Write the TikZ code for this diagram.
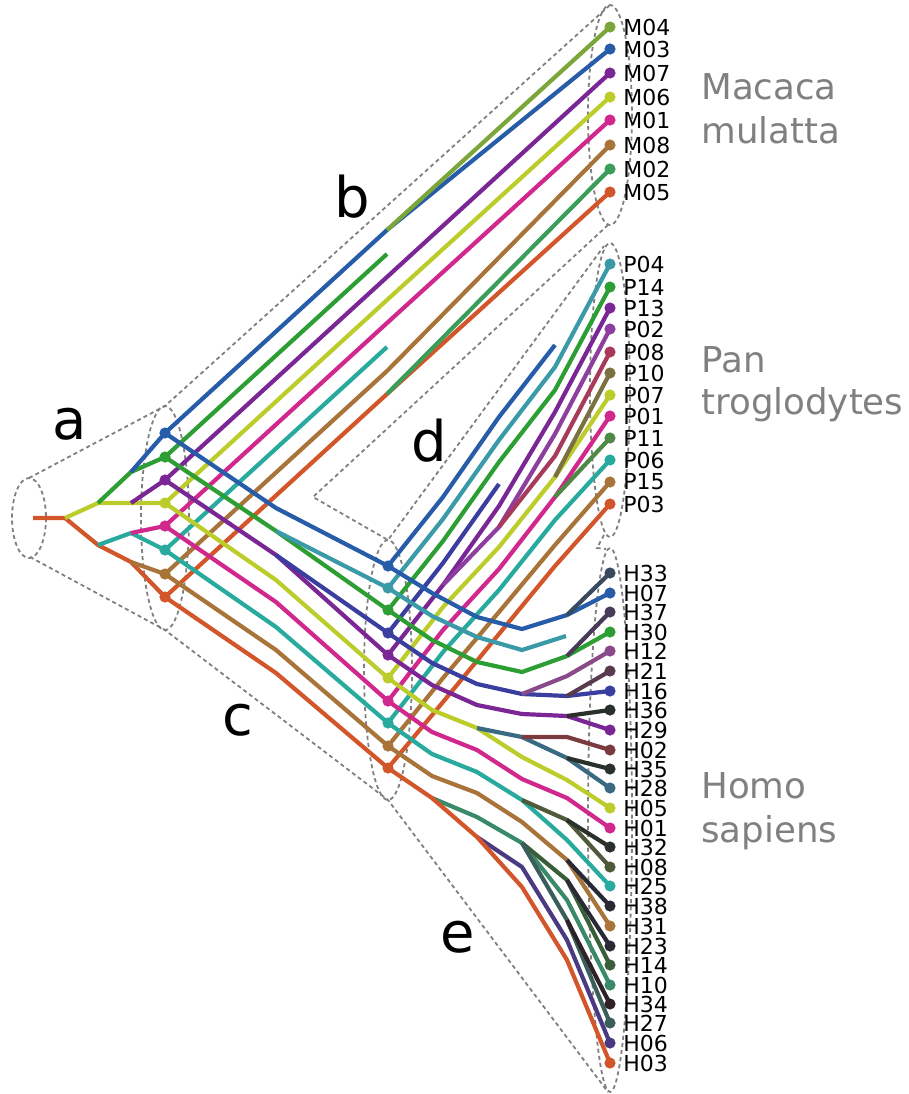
\documentclass[tikz,border=0pt]{standalone}
\usepackage{fontspec}
\setmainfont{DejaVu Sans}
\usetikzlibrary{positioning}

%% lineage colours
\definecolor{cOrange}{RGB}{210,86,42}
\definecolor{cYellow}{RGB}{188,204,42}
\definecolor{cGreen}{RGB}{44,158,52}
\definecolor{cBlue}{RGB}{38,92,168}
\definecolor{cPurple}{RGB}{122,38,148}
\definecolor{cPink}{RGB}{208,40,140}
\definecolor{cTeal}{RGB}{40,170,158}
\definecolor{cBrown}{RGB}{168,116,58}
\definecolor{cSteel}{RGB}{58,154,168}
\definecolor{cIndigo}{RGB}{58,62,158}
\definecolor{cOlive}{RGB}{122,166,58}
\definecolor{cMgreen}{RGB}{58,158,90}
\definecolor{cLpurple}{RGB}{142,62,158}
\definecolor{cMaroon}{RGB}{168,58,90}
\definecolor{cOliveP}{RGB}{122,112,64}
\definecolor{cDgreen}{RGB}{78,138,69}
\definecolor{cSlate}{RGB}{58,74,94}
\definecolor{cDpurple}{RGB}{74,58,90}
\definecolor{cHpurple}{RGB}{138,74,138}
\definecolor{cDmaroon}{RGB}{90,58,78}
\definecolor{cInk}{RGB}{42,48,42}
\definecolor{cMaroonH}{RGB}{122,58,62}
\definecolor{cSlateB}{RGB}{58,106,130}
\definecolor{cDolive}{RGB}{78,90,58}
\definecolor{cInkB}{RGB}{42,42,54}
\definecolor{cHgreen}{RGB}{58,138,106}
\definecolor{cDgreenH}{RGB}{58,94,58}
\definecolor{cDteal}{RGB}{58,94,90}
\definecolor{cInkP}{RGB}{46,34,40}
\definecolor{cHindigo}{RGB}{74,58,130}

%% tip lists: name / y / colour
\newcommand{\tipsM}{M04/27/cOlive, M03/49/cBlue, M07/73/cPurple, M06/97/cYellow,
  M01/120/cPink, M08/145/cBrown, M02/169/cMgreen, M05/192/cOrange}
\newcommand{\tipsP}{P04/264/cSteel, P14/287/cGreen, P13/308/cPurple, P02/329/cLpurple,
  P08/352/cMaroon, P10/373/cOliveP, P07/395/cYellow, P01/416/cPink,
  P11/438/cDgreen, P06/460/cTeal, P15/482/cBrown, P03/504/cOrange}
\newcommand{\tipsH}{H33/573/cSlate, H07/593/cBlue, H37/612/cDpurple, H30/632/cGreen,
  H12/651/cHpurple, H21/671/cDmaroon, H16/691/cIndigo, H36/710/cInk,
  H29/730/cPurple, H02/750/cMaroonH, H35/769/cInk, H28/788/cSlateB,
  H05/808/cYellow, H01/828/cPink, H32/847/cInk, H08/867/cDolive,
  H25/886/cTeal, H38/906/cInkB, H31/926/cBrown, H23/946/cInkB,
  H14/965/cDgreenH, H10/985/cHgreen, H34/1004/cInkP, H27/1023/cDteal,
  H06/1043/cHindigo, H03/1063/cOrange}
%% inner nodes: name / x / y / colour
\newcommand{\inner}{A1/165/433/cBlue, A2/165/457/cGreen, A3/165/480/cPurple,
  A4/165/503/cYellow, A5/165/526/cPink, A6/165/550/cTeal, A7/165/574/cBrown,
  A8/165/597/cOrange, C1/388/566/cBlue, C2/388/588/cSteel, C3/388/610/cGreen,
  C4/388/633/cIndigo, C5/388/655/cPurple, C6/388/678/cYellow, C7/388/701/cPink,
  C8/388/723/cTeal, C9/388/746/cBrown, C10/388/768/cOrange}

\begin{document}
\begin{tikzpicture}[
  x=0.5pt,y=-0.5pt,
  %% branches of the gene tree
  br/.style={line width=2.1pt,line join=round},
  %% species tree outline
  hull/.style={draw=gray,line width=0.9pt,dash pattern=on 2pt off 1.6pt},
  tiplab/.style={inner sep=0pt,font=\fontsize{11}{11}\selectfont},
  species/.style={anchor=base west,inner sep=0pt,text=gray,font=\fontsize{17.8}{17.8}\selectfont},
  clade/.style={inner sep=0pt,font=\fontsize{28}{28}\selectfont}
]
\useasboundingbox (0,0) rectangle (909,1094);

%% ---- COORDINATES ----
\coordinate (root) at (33,518);
\foreach \n/\y/\c in \tipsM {\coordinate (\n) at (610,\y);}
\foreach \n/\y/\c in \tipsP {\coordinate (\n) at (610,\y);}
\foreach \n/\y/\c in \tipsH {\coordinate (\n) at (610,\y);}
\foreach \n/\x/\y/\c in \inner {\coordinate (\n) at (\x,\y);}

%% ---- SPECIES TREE OUTLINE ----
\draw[hull] (29,518) ellipse (17 and 40);
\draw[hull] (165,518) ellipse (24 and 112);
\draw[hull] (388,670) ellipse (24 and 130);
\draw[hull] (610,115) ellipse (22 and 110);
\draw[hull] (610,390) ellipse (20 and 147);
\draw[hull] (610,820) ellipse (22 and 272);
\draw[hull] (29,478) -- (165,406) -- (610,5);
\draw[hull] (30,557) -- (165,630) -- (388,800) -- (608,1092);
\draw[hull] (608,225) -- (313,497) -- (388,540) -- (604,246);
\draw[hull] (604,535) -- (597,548) -- (606,549);

%% ---- a: root to first split ----
\draw[br,cOrange] (root) -- (65,518) -- (98,545) -- (131,562) -- (A8);
\draw[br,cYellow] (65,518) -- (98,503) -- (A4);
\draw[br,cGreen] (98,503) -- (131,472) -- (A2);
\draw[br,cBlue] (131,472) -- (A1);
\draw[br,cPurple] (131,503) -- (A3);
\draw[br,cTeal] (98,545) -- (131,533) -- (A6);
\draw[br,cPink] (131,533) -- (A5);
\draw[br,cBrown] (131,562) -- (A7);

%% ---- b: Macaca ----
\draw[br,cBlue] (A1) -- (387,230) -- (M03);
\draw[br,cOlive] (387,230) -- (M04);
\draw[br,cGreen] (A2) -- (387,254);
\draw[br,cPurple] (A3) -- (387,277) -- (M07);
\draw[br,cYellow] (A4) -- (387,300) -- (M06);
\draw[br,cPink] (A5) -- (387,323) -- (M01);
\draw[br,cTeal] (A6) -- (387,347);
\draw[br,cBrown] (A7) -- (387,371) -- (M08);
\draw[br,cOrange] (A8) -- (387,394) -- (M05);
\draw[br,cMgreen] (387,394) -- (M02);

%% ---- c: to second split ----
\draw[br,cBlue] (A1) -- (276,508) -- (C1);
\draw[br,cGreen] (A2) -- (276,531) -- (C3);
\draw[br,cSteel] (276,531) -- (C2);
\draw[br,cPurple] (A3) -- (276,555) -- (C5);
\draw[br,cIndigo] (276,555) -- (C4);
\draw[br,cYellow] (A4) -- (276,580) -- (C6);
\draw[br,cPink] (A5) -- (276,602) -- (C7);
\draw[br,cTeal] (A6) -- (276,627) -- (C8);
\draw[br,cBrown] (A7) -- (276,650) -- (C9);
\draw[br,cOrange] (A8) -- (276,673) -- (C10);

%% ---- d: Pan ----
\draw[br,cBlue] (C1) -- (443,497) -- (499,417) -- (555,345);
\draw[br,cSteel] (C2) -- (443,519) -- (499,440) -- (555,367) -- (P04);
\draw[br,cGreen] (C3) -- (443,541) -- (499,462) -- (555,390) -- (P14);
\draw[br,cIndigo] (C4) -- (443,563) -- (499,484);
\draw[br,cPurple] (C5) -- (443,585) -- (499,506) -- (555,412) -- (P13);
\draw[br,cLpurple] (443,585) -- (499,527) -- (555,434) -- (P02);
\draw[br,cMaroon] (499,527) -- (555,456) -- (P08);
\draw[br,cYellow] (C6) -- (443,607) -- (499,547) -- (555,477) -- (P07);
\draw[br,cOliveP] (555,477) -- (P10);
\draw[br,cPink] (C7) -- (443,630) -- (499,569) -- (555,497) -- (P01);
\draw[br,cDgreen] (555,497) -- (P11);
\draw[br,cTeal] (C8) -- (443,652) -- (499,590) -- (555,520) -- (P06);
\draw[br,cBrown] (C9) -- (443,678) -- (499,612) -- (555,545) -- (P15);
\draw[br,cOrange] (C10) -- (443,702) -- (499,634) -- (555,566) -- (P03);

%% ---- e: Homo ----
\draw[br,cBlue] (C1) -- (432,593) -- (477,617) -- (522,629) -- (567,615) -- (H07);
\draw[br,cSlate] (567,615) -- (H33);
\draw[br,cSteel] (C2) -- (432,616) -- (477,637) -- (522,650) -- (566,636);
\draw[br,cGreen] (C3) -- (432,640) -- (477,662) -- (522,672) -- (567,656) -- (H30);
\draw[br,cDpurple] (567,656) -- (H37);
\draw[br,cIndigo] (C4) -- (432,663) -- (477,684) -- (522,694) -- (567,696) -- (H16);
\draw[br,cHpurple] (522,694) -- (567,676) -- (H12);
\draw[br,cDmaroon] (567,696) -- (H21);
\draw[br,cPurple] (C5) -- (432,685) -- (477,705) -- (522,714) -- (567,716) -- (H29);
\draw[br,cInk] (567,716) -- (H36);
\draw[br,cYellow] (C6) -- (432,710) -- (477,728) -- (522,757) -- (567,780) -- (H05);
\draw[br,cSlateB] (477,728) -- (522,737) -- (567,758) -- (H28);
\draw[br,cMaroonH] (522,737) -- (567,737) -- (H02);
\draw[br,cInk] (567,758) -- (H35);
\draw[br,cPink] (C7) -- (432,732) -- (477,750) -- (522,779) -- (567,798) -- (H01);
\draw[br,cTeal] (C8) -- (432,754) -- (477,772) -- (522,800) -- (567,840) -- (H25);
\draw[br,cDolive] (522,800) -- (567,820) -- (H08);
\draw[br,cInk] (567,820) -- (H32);
\draw[br,cBrown] (C9) -- (432,776) -- (477,793) -- (522,822) -- (567,860) -- (H31);
\draw[br,cInkB] (567,860) -- (H38);
\draw[br,cHgreen] (432,798) -- (477,817) -- (522,843) -- (567,900) -- (H10);
\draw[br,cDgreenH] (522,843) -- (567,880) -- (H14);
\draw[br,cInkB] (567,880) -- (H23);
\draw[br,cDteal] (522,843) -- (567,920) -- (H27);
\draw[br,cInkP] (567,920) -- (H34);
\draw[br,cHindigo] (477,837) -- (522,867) -- (567,940) -- (H06);
\draw[br,cOrange] (C10) -- (432,798) -- (477,837) -- (522,887) -- (567,960) -- (H03);

%% ---- DOTS AND TIP LABELS ----
\foreach \n/\x/\y/\c in \inner {\fill[\c] (\n) circle (2.8pt);}
\foreach \n/\y/\c in \tipsM {\fill[\c] (\n) circle (2.8pt);
  \node[tiplab,right=6.5pt of \n] (l\n) {\n};}
\foreach \n/\y/\c in \tipsP {\fill[\c] (\n) circle (2.8pt);
  \node[tiplab,right=6.5pt of \n] (l\n) {\n};}
\foreach \n/\y/\c in \tipsH {\fill[\c] (\n) circle (2.8pt);
  \node[tiplab,right=6.5pt of \n] (l\n) {\n};}

%% ---- SPECIES NAMES ----
\node[species] (mac1) at (701,99) {Macaca};
\node[species] (mac2) at (701,143) {mulatta};
\node[species] (pan1) at (701,372) {Pan};
\node[species] (pan2) at (701,414) {troglodytes};
\node[species] (hom1) at (701,798) {Homo};
\node[species] (hom2) at (701,842) {sapiens};

%% ---- CLADE LETTERS ----
\node[clade] (la) at (70,424) {a};
\node[clade] (lb) at (352,197) {b};
\node[clade] (lc) at (238,720) {c};
\node[clade] (ld) at (429,441) {d};
\node[clade] (le) at (458,937) {e};

\end{tikzpicture}
\end{document}
